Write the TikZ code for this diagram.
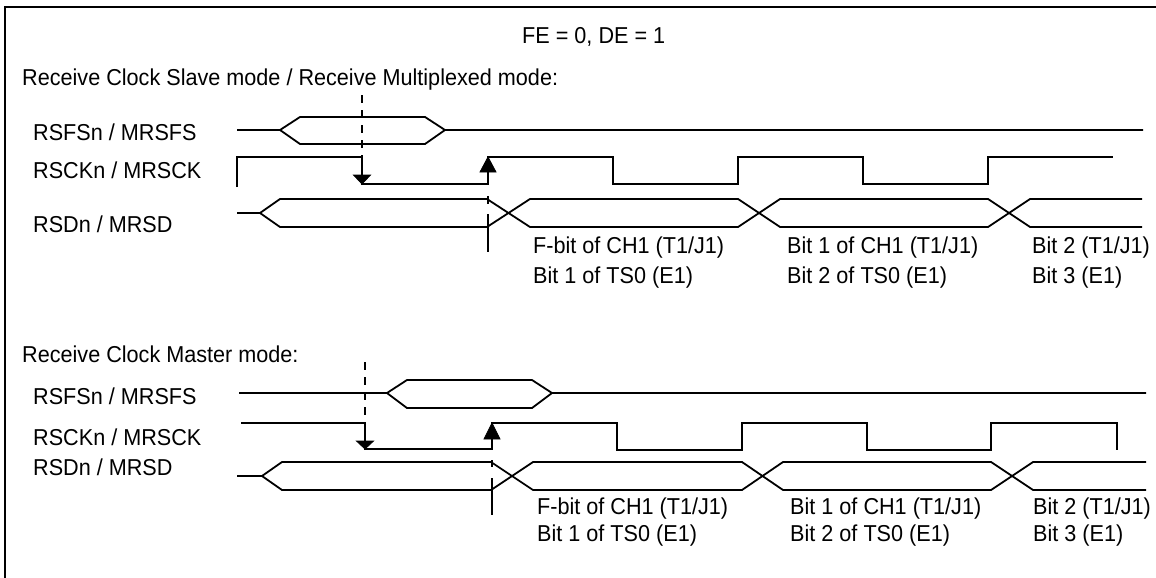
\documentclass[tikz,border=0pt]{standalone}
\usepackage{fontspec}
\setmainfont{Liberation Sans}[FakeStretch=0.94]
\begin{document}
\begin{tikzpicture}[x=1pt,y=-1pt,
  sig/.style={line width=1.8pt, line join=miter},
  mark line/.style={line width=1.8pt, dash pattern=on 8pt off 7pt},
  tip/.style={fill=black, draw=black, line width=0.8pt, line join=miter},
  lbl/.style={anchor=base west, inner sep=0pt, font=\fontsize{23}{27}\selectfont}]
\useasboundingbox (0,0) rectangle (1156,578);
\draw[line width=2pt] (5,578) -- (5,7.5) -- (1156,7.5);

% texts
\node[lbl] (title) at (522,43.5) {FE = 0, DE = 1};
\node[lbl] (slave) at (22,85) {Receive Clock Slave mode / Receive Multiplexed mode:};
\node[lbl] (fs1) at (33,140) {RSFSn / MRSFS};
\node[lbl] (ck1) at (33,178) {RSCKn / MRSCK};
\node[lbl] (sd1) at (33,232) {RSDn / MRSD};
\node[lbl] (a1) at (533,253) {F-bit of CH1 (T1/J1)};
\node[lbl] (a2) at (533,283) {Bit 1 of TS0 (E1)};
\node[lbl] (b1) at (787,253) {Bit 1 of CH1 (T1/J1)};
\node[lbl] (b2) at (787,283) {Bit 2 of TS0 (E1)};
\node[lbl] (c1) at (1032,253) {Bit 2 (T1/J1)};
\node[lbl] (c2) at (1032,283) {Bit 3 (E1)};

\node[lbl] (master) at (22,362) {Receive Clock Master mode:};
\node[lbl] (fs2) at (33,404) {RSFSn / MRSFS};
\node[lbl] (ck2) at (33,445) {RSCKn / MRSCK};
\node[lbl] (sd2) at (33,475) {RSDn / MRSD};
\node[lbl] (d1) at (537,514) {F-bit of CH1 (T1/J1)};
\node[lbl] (d2) at (537,541) {Bit 1 of TS0 (E1)};
\node[lbl] (e1) at (790,514) {Bit 1 of CH1 (T1/J1)};
\node[lbl] (e2) at (790,541) {Bit 2 of TS0 (E1)};
\node[lbl] (f1) at (1033,514) {Bit 2 (T1/J1)};
\node[lbl] (f2) at (1033,541) {Bit 3 (E1)};

% ---------- top section ----------
\draw[sig] (237,130) -- (280,130) -- (300,117) -- (425,117) -- (445,130) -- (1143,130);
\draw[sig] (280,130) -- (300,144) -- (425,144) -- (445,130);
\draw[sig] (237,187) -- (237,157) -- (362,157) -- (362,184) -- (488,184) -- (488,157)
  -- (613,157) -- (613,184) -- (738,184) -- (738,157) -- (863,157) -- (863,184)
  -- (988,184) -- (988,157) -- (1113,157);
\draw[sig] (237,213) -- (260,213) -- (280,199) -- (487,199) -- (530,227) -- (738,227)
  -- (780,199) -- (988,199) -- (1030,227) -- (1142,227);
\draw[sig] (260,213) -- (280,227) -- (487,227) -- (530,199) -- (738,199)
  -- (780,227) -- (988,227) -- (1030,199) -- (1142,199);
\draw[mark line] (362,95) -- (362,157);
\draw[sig] (488,196) -- (488,204) (488,214) -- (488,252);
\draw[tip] (362,184) -- (353.5,175) -- (370.5,175) -- cycle;
\draw[tip] (488,157) -- (480,172) -- (496,172) -- cycle;

% ---------- bottom section ----------
\draw[sig] (239,393) -- (387,393) -- (407,380) -- (532,380) -- (552,393) -- (1146,393);
\draw[sig] (387,393) -- (407,408) -- (532,408) -- (552,393);
\draw[sig] (241,423) -- (365,423) -- (365,449) -- (492,449) -- (492,423)
  -- (617,423) -- (617,450) -- (742,450) -- (742,423) -- (867,423) -- (867,450)
  -- (991,450) -- (991,423) -- (1117,423) -- (1117,450);
\draw[sig] (237,476) -- (262,476) -- (282,462) -- (491,462) -- (533,490) -- (742,490)
  -- (783,462) -- (991,462) -- (1033,490) -- (1146,490);
\draw[sig] (262,476) -- (282,490) -- (491,490) -- (533,462) -- (742,462)
  -- (783,490) -- (991,490) -- (1033,462) -- (1146,462);
\draw[mark line] (365,362) -- (365,423);
\draw[sig] (492,460) -- (492,467) (492,478) -- (492,515);
\draw[tip] (365,449) -- (356.5,441) -- (373.5,441) -- cycle;
\draw[tip] (492,423) -- (484,439) -- (500,439) -- cycle;
\end{tikzpicture}
\end{document}
